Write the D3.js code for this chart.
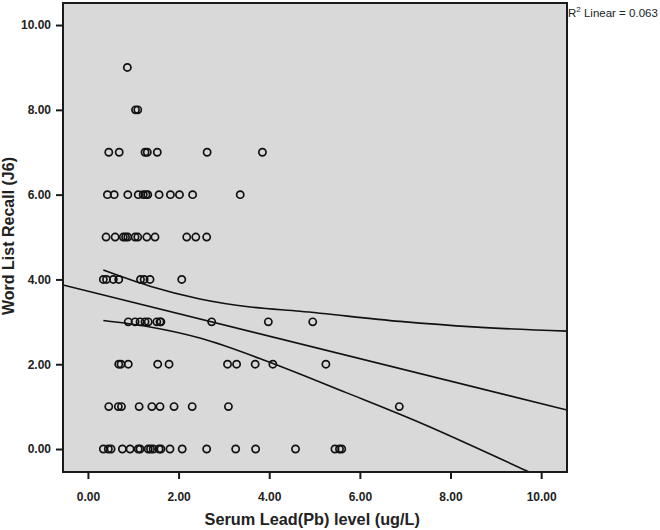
<!DOCTYPE html>
<html>
<head>
<meta charset="utf-8">
<script src="https://cdn.jsdelivr.net/npm/d3@7"></script>
<style>
  body { margin: 0; background: #fff; }
  text { font-family: "Liberation Sans", Arial, sans-serif; }
</style>
</head>
<body>
<svg id="chart" width="660" height="530"></svg>
<script>
// Word list recall scores (rows) and the lead levels of the points in each row
var recallLevels = [0, 1, 2, 3, 4, 5, 6, 7, 8, 9];
var leadByRecall = [
    [0.34, 0.45, 0.51, 0.76, 0.93, 1.11, 1.15, 1.33, 1.38, 1.44, 1.57, 1.61, 1.81, 2.08, 2.62, 3.26, 3.70, 4.58, 5.45, 5.55, 5.60],
    [0.46, 0.67, 0.74, 1.13, 1.41, 1.59, 1.90, 2.30, 3.10, 6.87],
    [0.68, 0.73, 0.89, 1.54, 1.79, 3.08, 3.28, 3.69, 4.08, 5.25],
    [0.89, 1.04, 1.15, 1.26, 1.33, 1.52, 1.59, 1.61, 2.73, 3.98, 4.96],
    [0.34, 0.41, 0.56, 0.68, 1.16, 1.24, 1.37, 2.07],
    [0.40, 0.60, 0.78, 0.83, 0.88, 1.04, 1.10, 1.30, 1.48, 2.18, 2.38, 2.62],
    [0.43, 0.58, 0.88, 1.11, 1.22, 1.28, 1.32, 1.57, 1.82, 2.02, 2.31, 3.36],
    [0.46, 0.69, 1.26, 1.31, 1.53, 2.63, 3.85],
    [1.05, 1.10],
    [0.87]
];

// Fit line and 95% confidence band
var fitX = [-0.55, 10.57];
var fitY = [3.87, 0.92];
var upperX = [0.34, 1.37, 2.47, 3.58, 4.68, 6.89, 8.50, 10.57];
var upperY = [4.22, 3.84, 3.54, 3.35, 3.25, 3.01, 2.88, 2.78];
var lowerX = [0.34, 1.37, 2.47, 4.08, 5.70, 7.33, 9.65, 10.00];
var lowerY = [3.03, 2.88, 2.62, 2.02, 1.33, 0.62, -0.50, -0.67];

var xTicks = [0, 2, 4, 6, 8, 10];
var yTicks = [0, 2, 4, 6, 8, 10];
var r2Value = "0.063";

var svg = d3.select("#chart");
var margin = { top: 3, right: 93, bottom: 58, left: 63 },
    width = 660 - margin.left - margin.right,
    height = 530 - margin.top - margin.bottom;

var xScale = d3.scaleLinear().domain([-0.55, 10.57]).range([0, width]);
var yScale = d3.scaleLinear().domain([-0.542, 10.52]).range([height, 0]);

var g = svg.append("g")
    .attr("transform", `translate(${margin.left}, ${margin.top})`);

// Plot background
g.append("rect")
    .attr("width", width)
    .attr("height", height)
    .attr("fill", "#d9d9d9");

g.append("clipPath").attr("id", "plotClip")
    .append("rect").attr("width", width).attr("height", height);

// Points
var points = [];
recallLevels.forEach(function (lvl, i) {
    leadByRecall[i].forEach(function (v) { points.push({ x: v, y: lvl }); });
});

g.append("g").selectAll("circle")
    .data(points)
    .join("circle")
    .attr("cx", d => xScale(d.x))
    .attr("cy", d => yScale(d.y))
    .attr("r", 3.6)
    .attr("fill", "none")
    .attr("stroke", "#111")
    .attr("stroke-width", 1.7);

// Lines
var lines = g.append("g").attr("clip-path", "url(#plotClip)");
var curve = d3.line()
    .x(d => xScale(d[0]))
    .y(d => yScale(d[1]))
    .curve(d3.curveMonotoneX);

[[fitX, fitY], [upperX, upperY], [lowerX, lowerY]].forEach(function (s) {
    lines.append("path")
        .datum(d3.zip(s[0], s[1]))
        .attr("d", curve)
        .attr("fill", "none")
        .attr("stroke", "#111")
        .attr("stroke-width", 1.6);
});

// Frame
g.append("rect")
    .attr("width", width)
    .attr("height", height)
    .attr("fill", "none")
    .attr("stroke", "#1a1a1a")
    .attr("stroke-width", 2);

// Axes
var xAxis = g.append("g")
    .attr("transform", `translate(0, ${height})`)
    .call(d3.axisBottom(xScale).tickValues(xTicks).tickFormat(d3.format(".2f")).tickSize(7).tickSizeOuter(0));
var yAxis = g.append("g")
    .call(d3.axisLeft(yScale).tickValues(yTicks).tickFormat(d3.format(".2f")).tickSize(7).tickSizeOuter(0));

[xAxis, yAxis].forEach(function (a) {
    a.select(".domain").remove();
    a.selectAll("line").attr("stroke", "#1a1a1a").attr("stroke-width", 2);
    a.selectAll("text")
        .attr("fill", "#222")
        .style("font-size", "12px")
        .style("font-weight", "bold");
});
xAxis.selectAll("text").attr("dy", "1.55em");
yAxis.selectAll("text").attr("x", -12);

// Axis titles
svg.append("text")
    .attr("x", margin.left + xScale(4.95))
    .attr("y", 525)
    .attr("text-anchor", "middle")
    .attr("fill", "#222")
    .style("font-size", "16.3px")
    .style("font-weight", "bold")
    .text("Serum Lead(Pb) level (ug/L)");

svg.append("text")
    .attr("transform", "rotate(-90)")
    .attr("x", -236)
    .attr("y", 14)
    .attr("text-anchor", "middle")
    .attr("fill", "#222")
    .style("font-size", "16px")
    .style("font-weight", "bold")
    .text("Word List Recall (J6)");

// R squared label
var r2 = svg.append("text")
    .attr("x", margin.left + width + 1)
    .attr("y", 17)
    .attr("fill", "#222")
    .style("font-size", "11.5px");
r2.append("tspan").text("R");
r2.append("tspan").attr("dy", -5).style("font-size", "8px").text("2");
r2.append("tspan").attr("dy", 5).text(" Linear = " + r2Value);
</script>
</body>
</html>
